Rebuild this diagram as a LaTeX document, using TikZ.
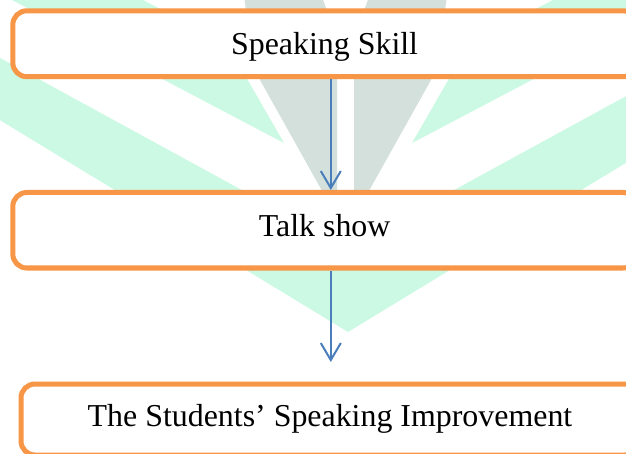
\documentclass[tikz,border=0pt]{standalone}
\usepackage{fontspec}
\setmainfont{Liberation Serif}
\usetikzlibrary{arrows.meta}
\definecolor{boxorange}{RGB}{247,150,70}
\definecolor{arrowblue}{RGB}{74,126,187}
\definecolor{wmgreen}{RGB}{204,249,227}
\definecolor{wmgray}{RGB}{211,224,220}
\begin{document}
\begin{tikzpicture}[x=1pt,y=-1pt,
  box/.style={draw=boxorange, line width=5pt, rounded corners=14pt, fill=white, inner sep=0pt},
  lbl/.style={anchor=base, font=\fontsize{31.9}{36}\selectfont, inner sep=0pt, text=black},
  arr/.style={draw=arrowblue, line width=2pt, -{Straight Barb[length=17pt,width=20pt]}},
  wmg/.style={fill=wmgreen, draw=none},
  wmn/.style={fill=wmgray, draw=none}]
\useasboundingbox (0,0) rectangle (626,454);
\clip (0,0) rectangle (626,454);
\fill[white] (0,0) rectangle (626,454);
% watermark
\fill[wmg] (-20,47) -- (348,248) -- (716,47) -- (716,108) -- (348,332) -- (-20,108) -- cycle;
\fill[wmg] (-26,-20) -- (105,-20) -- (227,44) -- (284,143) -- cycle;
\fill[wmg] (722,-20) -- (591,-20) -- (469,44) -- (412,143) -- cycle;
\fill[wmn] (337,217.5) -- (337,78) .. controls (337,40) and (330,15) .. (318,-12) -- (243,-12) .. controls (248,25) and (252,55) .. (260,80) -- cycle;
\fill[wmn] (354,217.5) -- (354,78) .. controls (354,40) and (361,15) .. (373,-12) -- (448,-12) .. controls (443,25) and (439,55) .. (431,80) -- cycle;
% boxes
\node[box, minimum width=624.2pt, minimum height=65.9pt] (b1) at (324.9,43.75) {};
\node[box, minimum width=624.2pt, minimum height=75.5pt] (b2) at (324.9,230.25) {};
\node[box, minimum width=618pt, minimum height=71pt] (b3) at (330,419.5) {};
% labels
\node[lbl] (t1) at (324.6,55) {Speaking Skill};
\node[lbl] (t2) at (324.7,236.7) {Talk show};
\node[lbl] (t3) at (330,426.7) {The Students’ Speaking Improvement};
% arrows
\coordinate (ax) at (330.8,0);
\draw[arr] (b1.south -| ax) -- (b2.north -| ax);
\draw[arr, shorten >=19.5pt] (b2.south -| ax) -- (b3.north -| ax);
\end{tikzpicture}
\end{document}
